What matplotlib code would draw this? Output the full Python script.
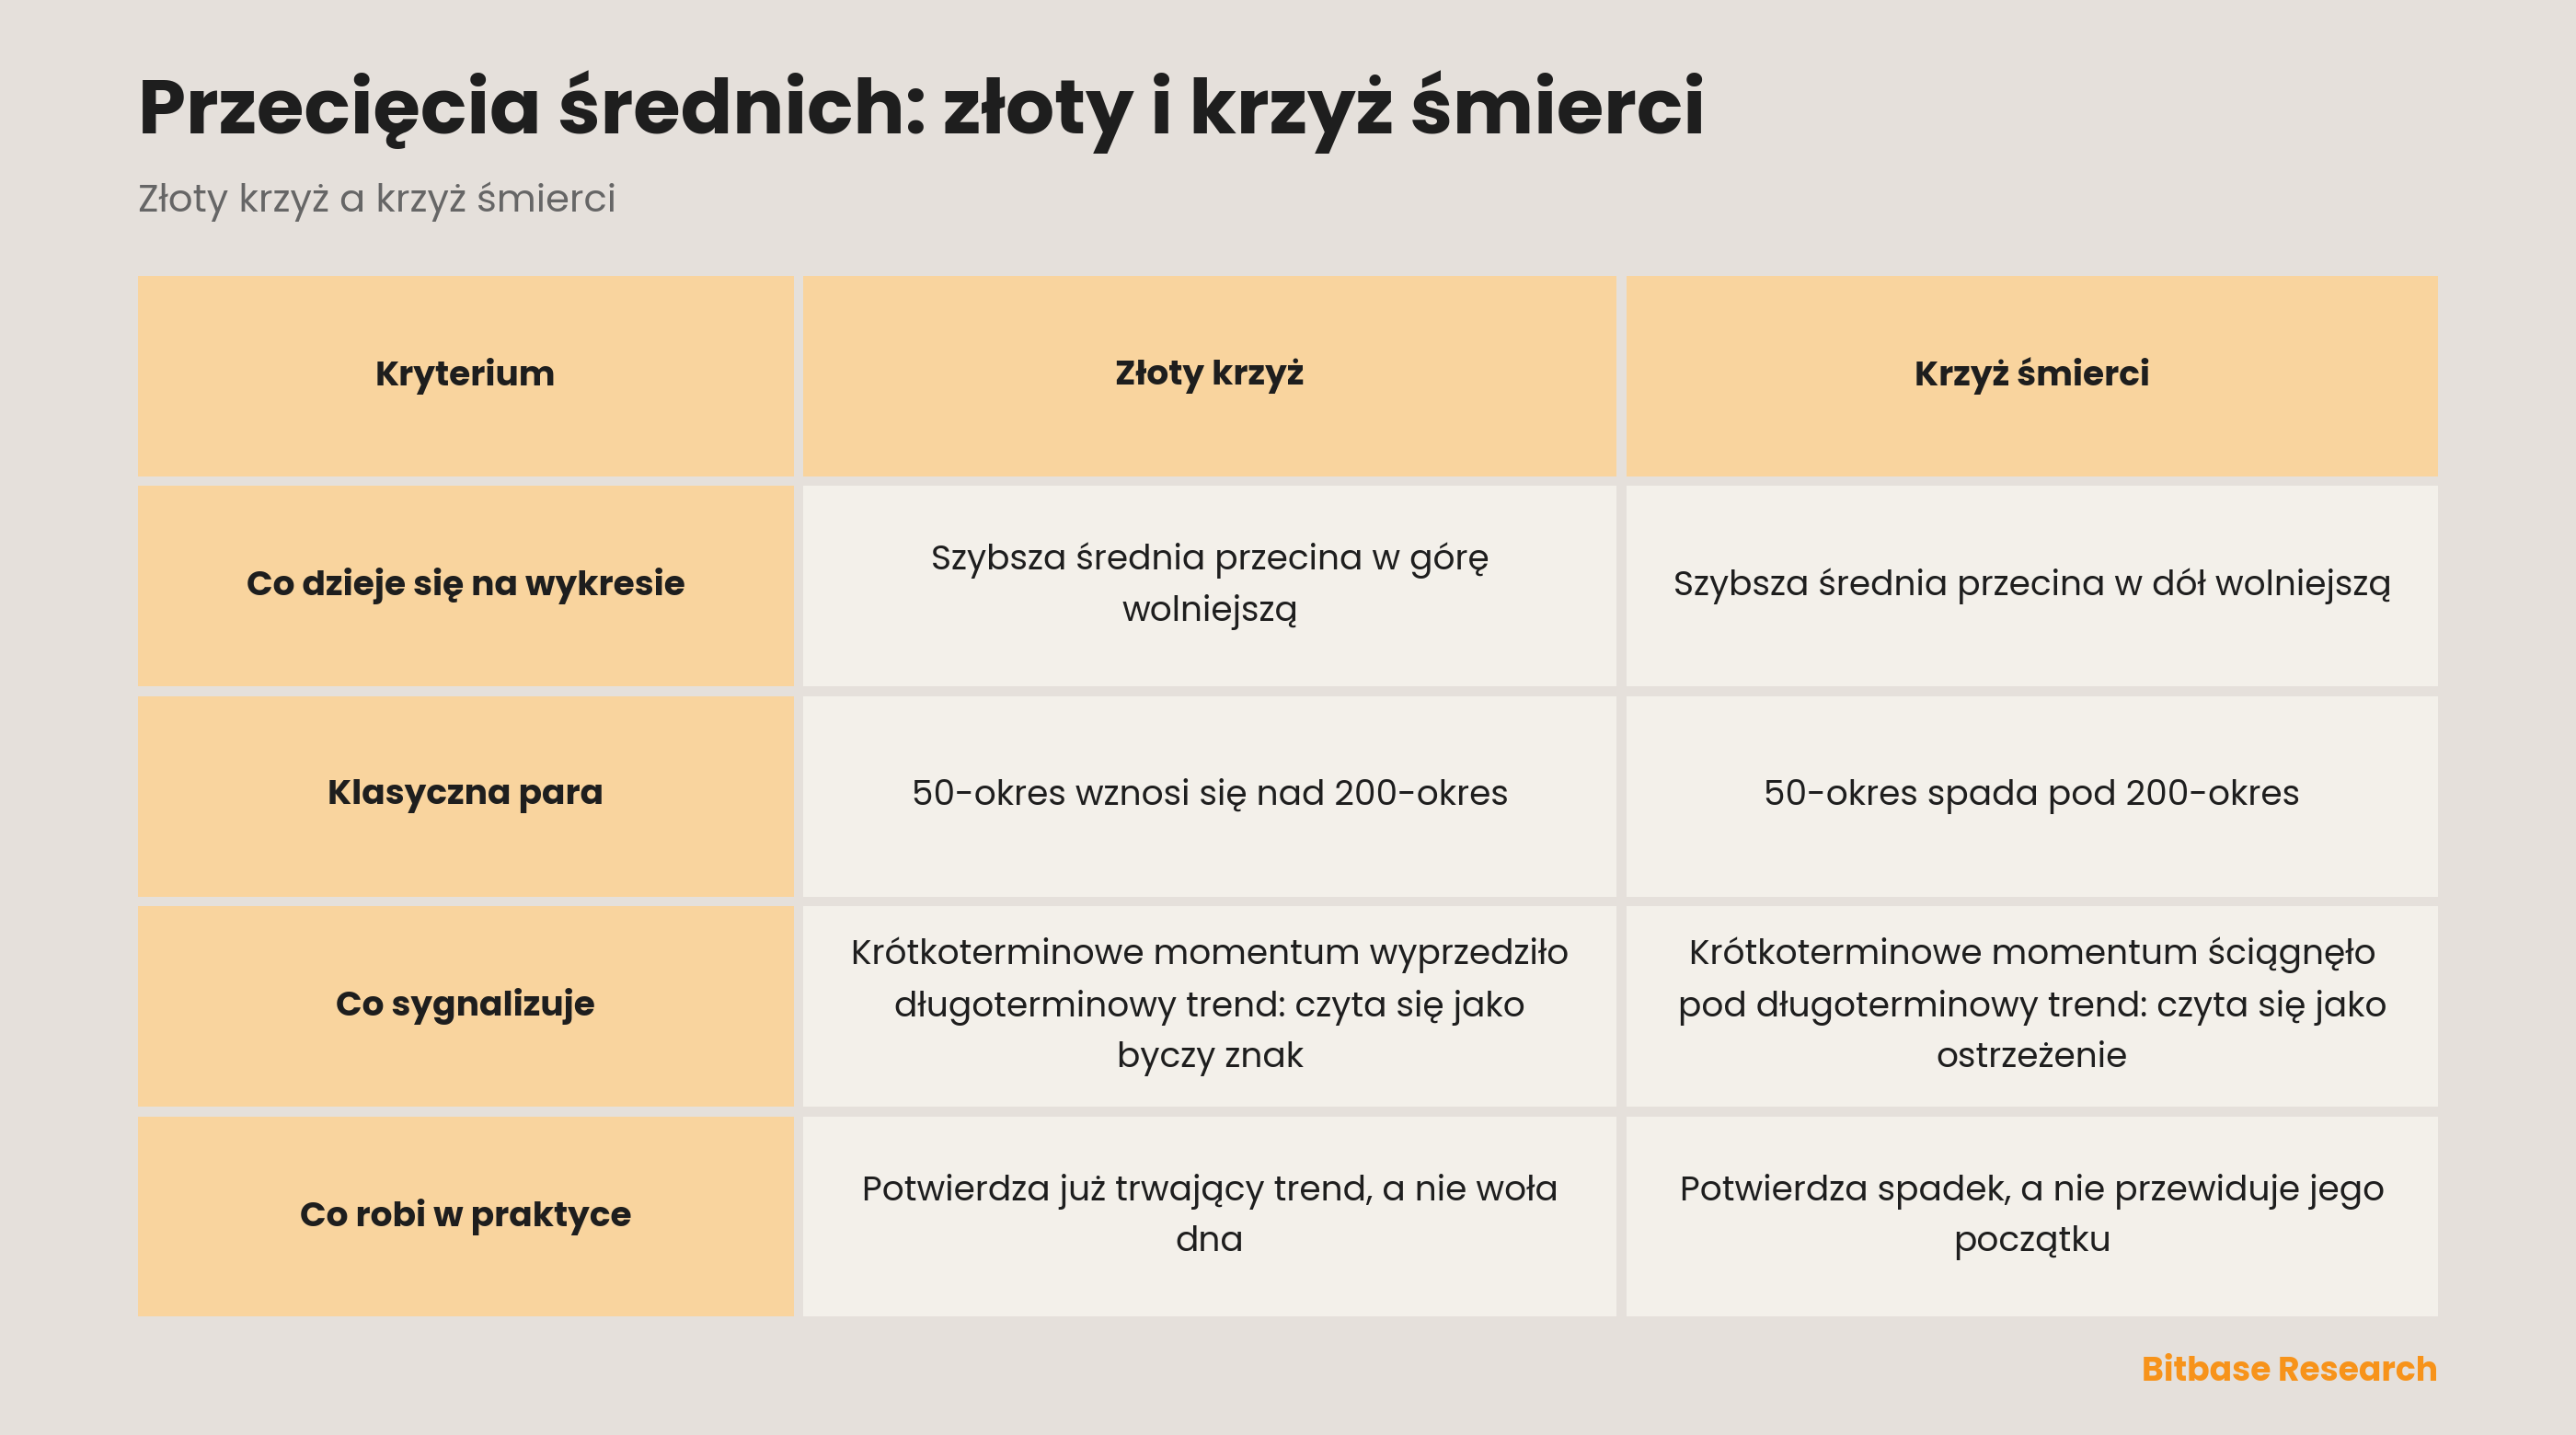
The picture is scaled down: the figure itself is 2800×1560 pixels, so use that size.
import matplotlib.pyplot as plt
from matplotlib.patches import Rectangle

title = "Przecięcia średnich: złoty i krzyż śmierci"
subtitle = "Złoty krzyż a krzyż śmierci"
source = "Bitbase Research"

headers = ["Kryterium", "Złoty krzyż", "Krzyż śmierci"]
criteria = ["Co dzieje się na wykresie", "Klasyczna para", "Co sygnalizuje", "Co robi w praktyce"]
golden = [
    "Szybsza średnia przecina w górę\nwolniejszą",
    "50-okres wznosi się nad 200-okres",
    "Krótkoterminowe momentum wyprzedziło\ndługoterminowy trend: czyta się jako\nbyczy znak",
    "Potwierdza już trwający trend, a nie woła\ndna",
]
death = [
    "Szybsza średnia przecina w dół wolniejszą",
    "50-okres spada pod 200-okres",
    "Krótkoterminowe momentum ściągnęło\npod długoterminowy trend: czyta się jako\nostrzeżenie",
    "Potwierdza spadek, a nie przewiduje jego\npoczątku",
]

BG = "#E5E0DB"
HEAD = "#F9D49E"
CELL = "#F3F0EA"
FONT = ["Poppins", "Inter", "DejaVu Sans"]

fig = plt.figure(figsize=(28, 15.6), dpi=100, facecolor=BG)
ax = fig.add_axes([0, 0, 1, 1])
ax.set_xlim(0, 1568)
ax.set_ylim(874, 0)
ax.axis("off")

ax.text(84, 68, title, fontsize=60, fontweight="bold", color="#1e1e1e",
        va="center", ha="left", family=FONT)
ax.text(84, 123, subtitle, fontsize=30, color="#666666", va="center", ha="left", family=FONT)

cols = [(84, 483), (489, 984), (990, 1484)]
rows = [(168, 290), (296, 418), (424, 546), (552, 674), (680, 802)]

table = [headers] + [[c, g, d] for c, g, d in zip(criteria, golden, death)]
for r, (y0, y1) in enumerate(rows):
    for c, (x0, x1) in enumerate(cols):
        color = HEAD if (r == 0 or c == 0) else CELL
        ax.add_patch(Rectangle((x0, y0), x1 - x0, y1 - y0, facecolor=color, edgecolor="none"))
        bold = r == 0 or c == 0
        ax.text((x0 + x1) / 2, (y0 + y1) / 2, table[r][c], ha="center", va="center",
                fontsize=27, fontweight="bold" if bold else "normal", color="#1e1e1e",
                linespacing=1.6, family=FONT)

ax.text(1484, 836, source, fontsize=26, fontweight="bold", color="#F7931A",
        ha="right", va="center", family=FONT)

plt.savefig("out.png", dpi=100, facecolor=BG)
